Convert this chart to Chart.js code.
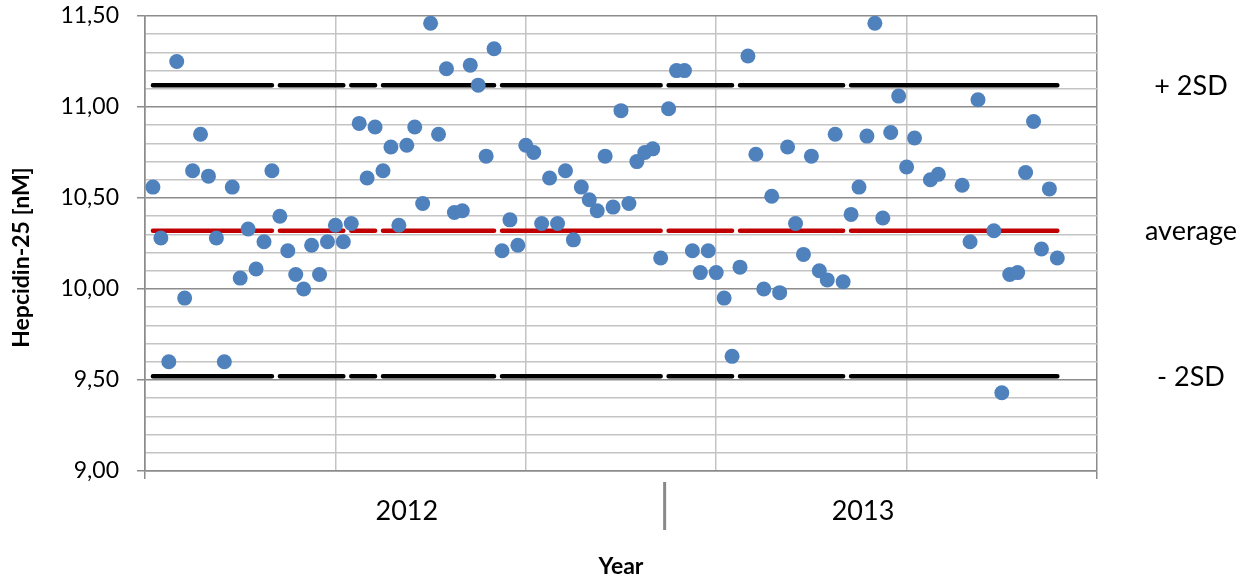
<!DOCTYPE html>
<html>
<head>
<meta charset="utf-8">
<script src="https://cdn.jsdelivr.net/npm/chart.js@4.4.1/dist/chart.umd.min.js"></script>
<style>
  html, body { margin: 0; padding: 0; background: #fff; }
  #wrap { width: 1251px; height: 586px; }
</style>
</head>
<body>
<div id="wrap"><canvas id="chart"></canvas></div>
<script>
'use strict';
// hepcidin-25 per sample, in run order (null = no result)
let hepcidin = [
  10.56, 10.28, 9.60, 11.25, 9.95, 10.65, 10.85, 10.62, 10.28, 9.60,
  10.56, 10.06, 10.33, 10.11, 10.26, 10.65, 10.40, 10.21, 10.08, 10.00,
  10.24, 10.08, 10.26, 10.35, 10.26, 10.36, 10.91, 10.61, 10.89, 10.65,
  10.78, 10.35, 10.79, 10.89, 10.47, 11.46, 10.85, 11.21, 10.42, 10.43,
  11.23, 11.12, 10.73, 11.32, 10.21, 10.38, 10.24, 10.79, 10.75, 10.36,
  10.61, 10.36, 10.65, 10.27, 10.56, 10.49, 10.43, 10.73, 10.45, 10.98,
  10.47, 10.70, 10.75, 10.77, 10.17, 10.99, 11.20, 11.20, 10.21, 10.09,
  10.21, 10.09, 9.95, 9.63, 10.12, 11.28, 10.74, 10.00, 10.51, 9.98,
  10.78, 10.36, 10.19, 10.73, 10.10, 10.05, 10.85, 10.04, 10.41, 10.56,
  10.84, 11.46, 10.39, 10.86, 11.06, 10.67, 10.83, null, 10.60, 10.63,
  null, null, 10.57, 10.26, 11.04, null, 10.32, 9.43, 10.08, 10.09,
  10.64, 10.92, 10.22, 10.55, 10.17
];
let years = ['2012', '2013'];
let yearFirstSample = [1, 66];
let refNames = ['+ 2SD', 'average', '- 2SD'];
let refValues = [11.12, 10.32, 9.52];
let refBreaksAfter = [16, 25, 29, 44, 65, 74, 88];
let yTickLabels = ['9,00', '9,50', '10,00', '10,50', '11,00', '11,50'];
let yTitle = 'Hepcidin-25 [nM]';

let sampleCount = hepcidin.length;
let points = [];
for (let i = 0; i < sampleCount; i++) {
    if (hepcidin[i] !== null) points.push({x: i + 1, y: hepcidin[i]});
}

function refData(v) {
    let d = [];
    for (let i = 1; i <= sampleCount; i++) {
        d.push({x: i, y: v});
        if (refBreaksAfter.includes(i)) d.push({x: i + 0.5, y: null});
    }
    return d;
}

let refColors = ['#000000', '#c00000', '#000000'];
let datasets = [{
    label: 'Hepcidin-25',
    data: points,
    pointRadius: 7.5,
    pointBackgroundColor: '#4f81bd',
    pointBorderWidth: 0,
    showLine: false,
    order: 0
}];
for (let r = 0; r < refValues.length; r++) {
    datasets.push({
        label: refNames[r],
        data: refData(refValues[r]),
        showLine: true,
        spanGaps: false,
        pointRadius: 0,
        borderColor: refColors[r],
        borderWidth: 4.5,
        borderCapStyle: 'round',
        order: 1
    });
}

function isMajor(v) {
    return Math.abs(v * 2 - Math.round(v * 2)) < 1e-6;
}

let extras = {
    id: 'extras',
    afterDraw(chart) {
        let ctx = chart.ctx;
        let xs = chart.scales.x;
        let ys = chart.scales.y;
        let area = chart.chartArea;
        ctx.save();
        // year labels
        ctx.fillStyle = '#000';
        ctx.font = '27px Lato';
        ctx.textAlign = 'center';
        ctx.textBaseline = 'middle';
        for (let k = 0; k < years.length; k++) {
            let a = yearFirstSample[k];
            let b = k + 1 < years.length ? yearFirstSample[k + 1] - 1 : sampleCount;
            ctx.fillText(years[k], xs.getPixelForValue((a + b) / 2), area.bottom + 40);
        }
        // separator between years
        ctx.strokeStyle = '#888888';
        ctx.lineWidth = 3;
        for (let k = 1; k < years.length; k++) {
            let sx = xs.getPixelForValue(yearFirstSample[k] - 0.5);
            ctx.beginPath();
            ctx.moveTo(sx, area.bottom + 11);
            ctx.lineTo(sx, area.bottom + 59);
            ctx.stroke();
        }
        // reference line names
        for (let r = 0; r < refNames.length; r++) {
            ctx.fillText(refNames[r], area.right + 94, ys.getPixelForValue(refValues[r]) + 1);
        }
        // y axis title, sits a bit below the middle like the original
        ctx.translate(22, (area.top + area.bottom) / 2 + 14);
        ctx.rotate(-Math.PI / 2);
        ctx.font = 'bold 23px Lato';
        ctx.fillText(yTitle, 0, 0);
        ctx.restore();
    }
};

new Chart(document.getElementById('chart'), {
    type: 'scatter',
    data: {datasets: datasets},
    options: {
        responsive: true,
        maintainAspectRatio: false,
        animation: false,
        events: [],
        layout: {padding: {left: 0, right: 154, top: 16, bottom: 0}},
        plugins: {legend: {display: false}, tooltip: {enabled: false}},
        scales: {
            x: {
                type: 'linear',
                min: 0,
                max: 120,
                ticks: {display: false, stepSize: 24},
                grid: {
                    color: c => (c.tick.value === 0 || c.tick.value === 120) ? '#8c8c8c' : '#c4c4c4',
                    tickColor: c => (c.tick.value === 0 || c.tick.value === 120) ? '#8c8c8c' : 'rgba(0,0,0,0)',
                    tickLength: 8,
                    lineWidth: 1.5
                },
                border: {color: '#8c8c8c', width: 1.5},
                title: {
                    display: true,
                    text: 'Year',
                    font: {family: 'Lato', size: 23, weight: 'bold'},
                    color: '#000',
                    padding: {top: 0, bottom: 6}
                },
                afterFit(s) { s.height = 115; s.paddingLeft = 0; s.paddingRight = 0; }
            },
            y: {
                min: 9,
                max: 11.5,
                ticks: {
                    stepSize: 0.1,
                    autoSkip: false,
                    padding: 18,
                    color: '#000',
                    font: {family: 'Lato', size: 23},
                    callback: v => isMajor(v) ? yTickLabels[Math.round((v - 9) * 2)] : ''
                },
                grid: {
                    color: c => isMajor(c.tick.value) ? '#8c8c8c' : '#c4c4c4',
                    tickColor: c => isMajor(c.tick.value) ? '#8c8c8c' : 'rgba(0,0,0,0)',
                    tickLength: 8,
                    lineWidth: 1.5
                },
                border: {color: '#8c8c8c', width: 1.5},
                title: {display: false},
                afterFit(s) { s.width = 145; s.paddingTop = 0; s.paddingBottom = 0; }
            }
        }
    },
    plugins: [extras]
});
</script>
</body>
</html>
